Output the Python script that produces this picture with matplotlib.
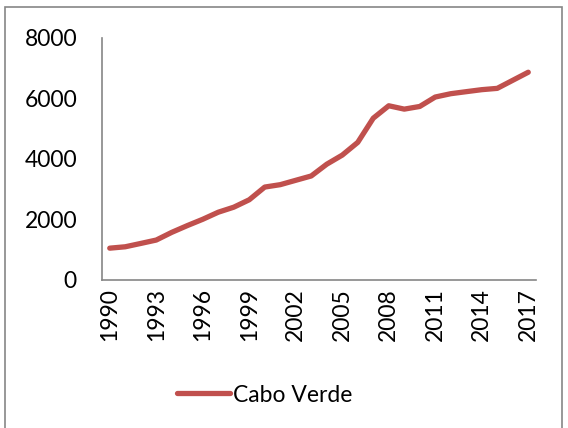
import matplotlib
matplotlib.use("Agg")
import matplotlib.pyplot as plt
from matplotlib.patches import Rectangle

years = list(range(1990, 2018))
values = [1050, 1096, 1206, 1318, 1572, 1794, 2003, 2236, 2402, 2647,
          3066, 3145, 3289, 3432, 3820, 4120, 4540, 5338, 5748, 5637,
          5725, 6036, 6146, 6213, 6279, 6322, 6588, 6854]
series_name = "Cabo Verde"
yticks = [0, 2000, 4000, 6000, 8000]

plt.rcParams['font.family'] = ['Lato', 'DejaVu Sans']

fig = plt.figure(figsize=(5.68, 4.28), dpi=100)
ax = fig.add_axes([102/568, 1 - 280/428, (536-102)/568, (280-37.5)/428])

x = list(range(len(years)))
line, = ax.plot(x, values, color='#C0504D', linewidth=3.8,
                solid_capstyle='round', solid_joinstyle='round', label=series_name)

ax.set_xlim(-0.5, len(years) - 0.5)
ax.set_ylim(0, 8000)
ax.set_yticks(yticks)
ax.set_yticklabels([str(v) for v in yticks], fontsize=16.5)
ax.set_xticks(x[::3])
ax.set_xticklabels([str(y) for y in years[::3]], rotation=90, fontsize=16.5)
ax.tick_params(axis='both', length=0, colors='black')
ax.tick_params(axis='y', pad=18)
ax.tick_params(axis='x', pad=6)

for s in ['top', 'right']:
    ax.spines[s].set_visible(False)
for s in ['left', 'bottom']:
    ax.spines[s].set_color('#868686')
    ax.spines[s].set_linewidth(1.2)

fig.legend(handles=[line], loc='center', bbox_to_anchor=(265/568, 1 - 395/428),
           frameon=False, fontsize=16.5, handlelength=2.3, handletextpad=0.15)

fig.patches.append(Rectangle((5/568, -10/428), (562-5)/568, (421+10)/428,
                             transform=fig.transFigure, fill=False,
                             edgecolor='#868686', linewidth=1.2, clip_on=False))

fig.savefig('out.png', dpi=100)
